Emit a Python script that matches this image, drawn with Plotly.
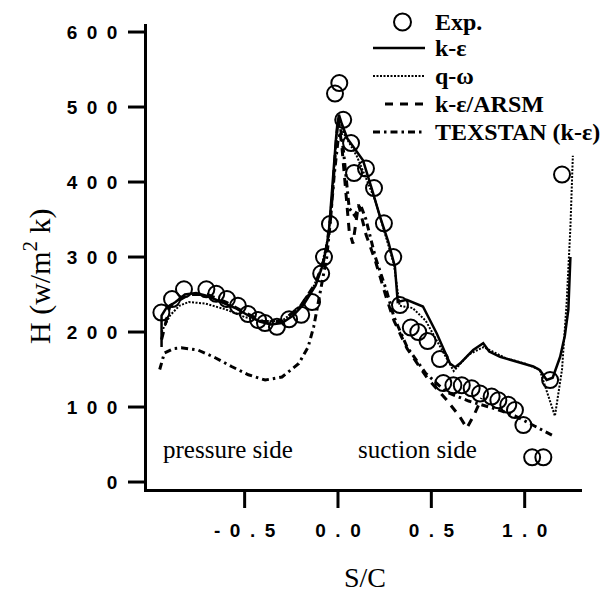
import plotly.graph_objects as go

# ---------------- data ----------------
exp_x = [-0.946, -0.889, -0.825, -0.705, -0.652, -0.595, -0.536, -0.482, -0.428, -0.391,
         -0.327, -0.262, -0.197, -0.139, -0.090, -0.075, -0.043, -0.016, 0.007, 0.028,
         0.070, 0.086, 0.150, 0.193, 0.246, 0.296, 0.332, 0.390, 0.430, 0.480, 0.546,
         0.564, 0.618, 0.663, 0.716, 0.761, 0.823, 0.859, 0.912, 0.948, 0.993, 1.040,
         1.100, 1.136, 1.200]
exp_y = [226, 244, 257, 257, 251, 244, 235, 224, 216, 212,
         207, 217, 223, 240, 278, 300, 344, 518, 532, 483,
         452, 412, 418, 392, 345, 300, 236, 206, 200, 188, 164,
         132, 129, 129, 125, 118, 114, 109, 103, 96, 76, 33,
         33, 136, 410]

ke_x = [-0.945, -0.945, -0.92, -0.87, -0.82, -0.76, -0.70, -0.62, -0.55, -0.48, -0.42,
        -0.36, -0.30, -0.24, -0.18, -0.12, -0.08, -0.05, -0.03, -0.01, 0.005, 0.02, 0.05,
        0.10, 0.134, 0.18, 0.225, 0.27, 0.305, 0.32, 0.368, 0.455, 0.529, 0.60, 0.627,
        0.653, 0.724, 0.778, 0.81, 0.868, 0.957, 1.046, 1.082, 1.118, 1.15, 1.19, 1.215,
        1.234, 1.245]
ke_y = [180, 222, 232, 240, 250, 252, 248, 240, 232, 222, 214,
        210, 212, 222, 238, 262, 290, 330, 390, 460, 490, 478, 458,
        440, 429, 392, 354, 320, 287, 240, 243, 234, 198, 158, 153,
        158, 176, 185, 174, 167, 160, 154, 149, 136, 139, 167, 195,
        230, 300]

qw_x = [-0.945, -0.90, -0.85, -0.80, -0.71, -0.60, -0.50, -0.40, -0.30, -0.21, -0.14,
        -0.09, -0.05, -0.025, -0.005, 0.005, 0.03, 0.10, 0.20, 0.30, 0.33, 0.40, 0.47,
        0.55, 0.62, 0.70, 0.78, 0.90, 1.00, 1.08, 1.162, 1.20, 1.225, 1.245, 1.258]
qw_y = [200, 222, 235, 240, 238, 230, 220, 214, 215, 232, 255,
        285, 330, 400, 470, 488, 465, 435, 375, 290, 235, 232, 215,
        180, 148, 170, 180, 165, 158, 150, 88, 150, 240, 340, 435]

arsm_x = [-0.945, -0.90, -0.80, -0.70, -0.60, -0.50, -0.40, -0.30, -0.20, -0.12, -0.07,
          -0.04, -0.02, 0.0, 0.02, 0.04, 0.06, 0.08, 0.11, 0.15, 0.20, 0.26, 0.30, 0.37,
          0.48, 0.58, 0.65, 0.69, 0.73, 0.77]
arsm_y = [190, 235, 250, 250, 240, 226, 214, 214, 235, 265, 300,
          350, 420, 485, 450, 390, 335, 318, 370, 330, 295, 245, 215, 178,
          138, 110, 88, 72, 90, 112]

tex_x = [-0.955, -0.93, -0.88, -0.84, -0.75, -0.66, -0.57, -0.48, -0.39, -0.30, -0.21,
         -0.16, -0.13, -0.10, -0.08, -0.06, -0.04, -0.02, 0.0, 0.015, 0.03, 0.045, 0.06,
         0.09, 0.12, 0.15, 0.20, 0.26, 0.30, 0.37, 0.47, 0.58, 0.70, 0.85, 0.95, 1.05, 1.15]
tex_y = [150, 172, 178, 179, 176, 166, 154, 143, 136, 140, 158,
         180, 207, 245, 275, 300, 350, 410, 455, 470, 440, 400, 365,
         355, 370, 350, 300, 255, 220, 180, 145, 120, 108, 97, 88, 75, 62]

series_names = ["Exp.", "k-\u03b5", "q-\u03c9", "k-\u03b5/ARSM", "TEXSTAN (k-\u03b5)"]

y_ticks = [0, 100, 200, 300, 400, 500, 600]
y_ticktext = ["0", "1\u20020\u20020", "2\u20020\u20020", "3\u20020\u20020",
              "4\u20020\u20020", "5\u20020\u20020", "6\u20020\u20020"]
x_ticks = [-0.5, 0.0, 0.5, 1.0]
x_ticktext = ["-\u20020\u2002.\u20025", "0\u2002.\u20020", "0\u2002.\u20025", "1\u2002.\u20020"]

X_RANGE = [-1.023, 1.307]
Y_RANGE = [-9.3, 610.7]

# line styles (one per series, Exp. uses markers)
styles = [None,
          dict(color="black", width=2.5),
          dict(color="black", width=2, dash="2px,1.5px"),
          dict(color="black", width=3, dash="8px,7px"),
          dict(color="black", width=3, dash="7px,4px,2.5px,4px")]

# ---------------- figure ----------------
fig = go.Figure()
fig.add_trace(go.Scatter(x=exp_x, y=exp_y, mode="markers", name=series_names[0],
                         showlegend=False,
                         marker=dict(symbol="circle-open", size=16, color="black",
                                     line=dict(width=2, color="black"))))
for xs, ys, nm, st in [(ke_x, ke_y, series_names[1], styles[1]),
                       (qw_x, qw_y, series_names[2], styles[2]),
                       (arsm_x, arsm_y, series_names[3], styles[3]),
                       (tex_x, tex_y, series_names[4], styles[4])]:
    fig.add_trace(go.Scatter(x=xs, y=ys, mode="lines", name=nm, showlegend=False, line=st))

# ---- pixel helpers for paper-referenced decorations ----
W, H = 616, 591
ml, mr, mt, mb = 147, 34, 24, 102
pw, ph = W - ml - mr, H - mt - mb


def px(xp):
    return (xp - ml) / pw


def py(yp):
    return (H - mb - yp) / ph


# ---- tick marks at the axis tick values (paper-referenced, not clipped) ----
for t in x_ticks:
    xf = (t - X_RANGE[0]) / (X_RANGE[1] - X_RANGE[0])
    fig.add_shape(type="line", xref="paper", yref="paper", x0=xf, x1=xf,
                  y0=py(489), y1=py(508), line=dict(color="black", width=3))
for v in y_ticks:
    yf = (v - Y_RANGE[0]) / (Y_RANGE[1] - Y_RANGE[0])
    fig.add_shape(type="line", xref="paper", yref="paper", x0=px(128), x1=px(147),
                  y0=yf, y1=yf, line=dict(color="black", width=3))

# ---- key (legend) ----
legend_rows = [22, 48, 76, 104, 132]
text_x = 433
for i, (nm, yy) in enumerate(zip(series_names, legend_rows)):
    fig.add_annotation(x=px(text_x), y=py(yy), xref="paper", yref="paper",
                       xanchor="left", yanchor="middle", text="<b>" + nm + "</b>",
                       showarrow=False,
                       font=dict(family="Liberation Serif", size=24, color="black"))
    if i == 0:
        fig.add_shape(type="circle", xref="paper", yref="paper",
                      x0=px(394), x1=px(411), y0=py(yy - 8.5), y1=py(yy + 8.5),
                      line=dict(color="black", width=2))
    else:
        st = styles[i]
        x0, x1 = (373, 425) if i in (1, 2, 4) else (385, 423)
        fig.add_shape(type="line", xref="paper", yref="paper",
                      x0=px(x0), x1=px(x1), y0=py(yy), y1=py(yy),
                      line=dict(color="black", width=st["width"], dash=st.get("dash", "solid")))

fig.add_annotation(x=-0.589, y=44, text="pressure side", showarrow=False,
                   xanchor="center", yanchor="middle",
                   font=dict(family="Liberation Serif", size=25, color="black"))
fig.add_annotation(x=0.428, y=44, text="suction side", showarrow=False,
                   xanchor="center", yanchor="middle",
                   font=dict(family="Liberation Serif", size=25, color="black"))
fig.add_annotation(x=px(37), y=py(276), xref="paper", yref="paper",
                   xanchor="center", yanchor="middle",
                   text="H (w/m<sup>2</sup> k)", textangle=-90, showarrow=False,
                   font=dict(family="Liberation Serif", size=30, color="black"))
fig.add_annotation(x=px(365), y=py(577), xref="paper", yref="paper",
                   xanchor="center", yanchor="middle",
                   text="S/C", showarrow=False,
                   font=dict(family="Liberation Serif", size=28, color="black"))

fig.update_layout(
    width=W, height=H,
    margin=dict(l=ml, r=mr, t=mt, b=mb),
    paper_bgcolor="white", plot_bgcolor="white",
    showlegend=False,
    font=dict(family="Liberation Sans", color="black"),
)
fig.update_xaxes(range=X_RANGE, showgrid=False, zeroline=False,
                 showline=True, linecolor="black", linewidth=2.5, ticks="",
                 tickvals=x_ticks, ticktext=["<b>" + t + "</b>" for t in x_ticktext],
                 ticklabelstandoff=22,
                 tickfont=dict(family="Liberation Sans", size=19, color="black"))
fig.update_yaxes(range=Y_RANGE, showgrid=False, zeroline=False,
                 showline=True, linecolor="black", linewidth=2.5, ticks="",
                 tickvals=y_ticks, ticktext=["<b>" + t + "</b>" for t in y_ticktext],
                 ticklabelstandoff=23,
                 tickfont=dict(family="Liberation Sans", size=19, color="black"))

fig.write_html("out.html")
